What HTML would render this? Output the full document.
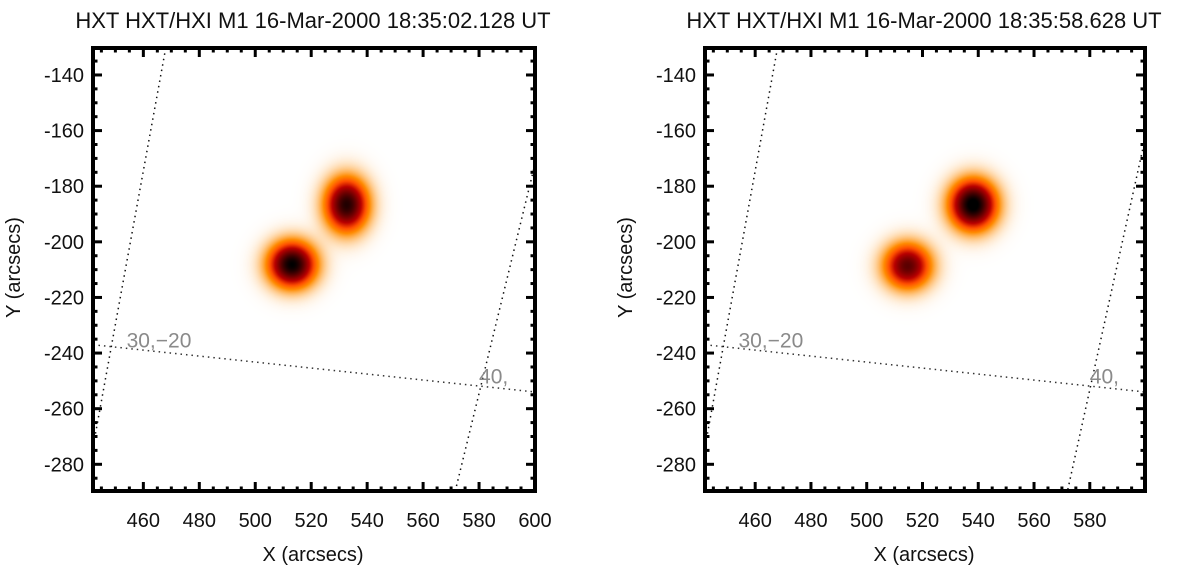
<!DOCTYPE html>
<html><head><meta charset="utf-8"><style>
html,body{margin:0;padding:0;background:#fff;}
#wrap{position:relative;width:1194px;height:569px;overflow:hidden;font-family:"Liberation Sans",sans-serif;}
canvas{position:absolute;}
svg{position:absolute;left:0;top:0;}
</style></head><body>
<div id="wrap">
<canvas id="c0"></canvas>
<canvas id="c1"></canvas>
<svg id="svg" width="1194" height="569" xmlns="http://www.w3.org/2000/svg"></svg>
</div>
<script>
// ---- data ----
const panelTitles = ["HXT HXT/HXI M1 16-Mar-2000 18:35:02.128 UT", "HXT HXT/HXI M1 16-Mar-2000 18:35:58.628 UT"];
const xTickLabels = [[460,480,500,520,540,560,580,600],[460,480,500,520,540,560,580]];
const yTickLabels = [-140,-160,-180,-200,-220,-240,-260,-280];
const xRanges = [[442,600],[442,599.8]];
const yRange = [-130.3,-289.6];
// sources per panel: x, y, peak, sigmaX, sigmaY
const srcX = [[513,532.5],[514.5,538]];
const srcY = [[-208,-186.5],[-208.5,-186.5]];
const srcPeak = [[1.0,0.92],[0.78,1.05]];
const srcSx = [[5.6,5.1],[5.6,5.5]];
const srcSy = [[5.4,6.4],[5.4,5.9]];
// grid lines (data coords): [x1,y1,x2,y2]
const gridLines = [
  [[468,-130.3,442.7,-270],[442,-237,600,-254],[600,-172,571.5,-289.6]],
  [[468,-130.3,442.7,-270],[442,-237,599.8,-254],[599.8,-163,572,-289.6]]
];
const gridLabelText = ["30,\u221220","40,"];
const gridLabelPos = [[[454,-238],[580,-251]],[[454,-238],[580,-251]]];

const frames = [{l:93,t:48,w:442,h:443},{l:705,t:48,w:440,h:443}];
const NS="http://www.w3.org/2000/svg";
const svg=document.getElementById('svg');
function mk(tag,attrs,parent){const e=document.createElementNS(NS,tag);for(const k in attrs)e.setAttribute(k,attrs[k]);(parent||svg).appendChild(e);return e;}

function colorOf(I){
  const t=1-Math.max(0,Math.min(1,I));
  const c=v=>Math.round(255*Math.max(0,Math.min(1,v)));
  return [c(t/0.62),c((t-0.45)/0.55),c((t-0.75)/0.25)];
}

for(let p=0;p<2;p++){
  const f=frames[p];
  const xr=xRanges[p];
  const sx=v=>f.l+(v-xr[0])/(xr[1]-xr[0])*f.w;
  const sy=v=>f.t+(v-yRange[0])/(yRange[1]-yRange[0])*f.h;
  const ix=px=>xr[0]+(px-f.l)/f.w*(xr[1]-xr[0]);
  const iy=py=>yRange[0]+(py-f.t)/f.h*(yRange[1]-yRange[0]);

  const cv=document.getElementById('c'+p);
  cv.width=f.w;cv.height=f.h;cv.style.left=f.l+'px';cv.style.top=f.t+'px';
  const ctx=cv.getContext('2d');const img=ctx.createImageData(f.w,f.h);
  for(let j=0;j<f.h;j++){for(let i=0;i<f.w;i++){
    const X=ix(f.l+i),Y=iy(f.t+j);let I=0;
    for(let k=0;k<srcX[p].length;k++){
      const dx=(X-srcX[p][k])/srcSx[p][k],dy=(Y-srcY[p][k])/srcSy[p][k];
      I+=srcPeak[p][k]*Math.exp(-0.5*(dx*dx+dy*dy));
    }
    const col=colorOf(I);const o=(j*f.w+i)*4;
    img.data[o]=col[0];img.data[o+1]=col[1];img.data[o+2]=col[2];img.data[o+3]=255;
  }}
  ctx.putImageData(img,0,0);

  const g=mk('g',{});
  
  
  const clipId='clip'+p;
  const cp=mk('clipPath',{id:clipId},g);mk('rect',{x:f.l,y:f.t,width:f.w,height:f.h},cp);

  gridLines[p].forEach((L,k)=>{
    const ln=mk('line',{x1:sx(L[0]),y1:sy(L[1]),x2:sx(L[2]),y2:sy(L[3]),stroke:k==1?'#333':'#111','stroke-width':1.5,'stroke-dasharray':'1.5 4','clip-path':'url(#'+clipId+')'},g);
    
    
  });
  gridLabelText.forEach((s,k)=>{
    const t=mk('text',{x:sx(gridLabelPos[p][k][0]),y:sy(gridLabelPos[p][k][1]),'font-size':21,fill:'#8a8a8a'},g);
    t.textContent=s;
    
    
  });

  for(let v=445;v<=xr[1]+0.01;v+=5){
    const x=sx(v);const major=(v%20===0);const L=major?9:4.5;
    mk('line',{x1:x,y1:f.t,x2:x,y2:f.t+L,stroke:'#000','stroke-width':3},g);
    mk('line',{x1:x,y1:f.t+f.h,x2:x,y2:f.t+f.h-L,stroke:'#000','stroke-width':3},g);
  }
  for(let v=-135;v>=-285;v-=5){
    const y=sy(v);const major=(v%20===0);const L=major?9:4.5;
    mk('line',{x1:f.l,y1:y,x2:f.l+L,y2:y,stroke:'#000','stroke-width':3},g);
    mk('line',{x1:f.l+f.w,y1:y,x2:f.l+f.w-L,y2:y,stroke:'#000','stroke-width':3},g);
  }
  const fr=mk('rect',{x:f.l,y:f.t,width:f.w,height:f.h,fill:'none',stroke:'#000','stroke-width':4},g);
  
  

  xTickLabels[p].forEach(v=>{
    const t=mk('text',{x:sx(v),y:527,'font-size':20,'text-anchor':'middle',fill:'#111'},g);
    t.textContent=v;
    
    
  });
  yTickLabels.forEach(v=>{
    const t=mk('text',{x:f.l-9,y:sy(v)+7,'font-size':20,'text-anchor':'end',fill:'#111'},g);
    t.textContent=v;
    
    
  });
  const xt=mk('text',{x:f.l+f.w/2-1,y:561,'font-size':20,'text-anchor':'middle',fill:'#111'},g);
  xt.textContent='X (arcsecs)';
  
  
  const yx=f.l-73,yy=f.t+f.h/2-2;
  const yt=mk('text',{x:yx,y:yy,'font-size':20,'text-anchor':'middle',fill:'#111',transform:'rotate(-90 '+yx+' '+yy+')'},g);
  yt.textContent='Y (arcsecs)';
  
  
  const tt=mk('text',{x:f.l+f.w/2-1,y:28,'font-size':22,'text-anchor':'middle',fill:'#111'},g);
  tt.textContent=panelTitles[p];
  
  
}
</script>
</body></html>
